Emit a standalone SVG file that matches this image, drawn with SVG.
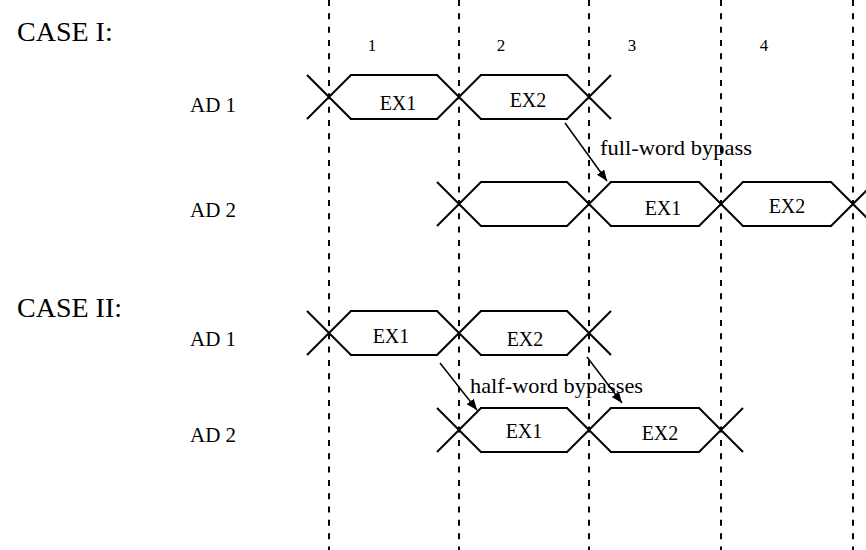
<svg xmlns="http://www.w3.org/2000/svg" width="866" height="550" viewBox="0 0 866 550">
<style>
.t{font-family:"Liberation Serif","Times New Roman",serif;fill:#000}
.case{font-size:28px}
.lbl{font-size:21px}
.ex{font-size:20px;text-anchor:middle}
.num{font-size:17px;text-anchor:middle}
.wave{fill:none;stroke:#000;stroke-width:2}
.grid{stroke:#000;stroke-width:2;stroke-dasharray:6 7.33}
.arr{stroke:#000;stroke-width:1.5;fill:none;marker-end:url(#ah)}
</style>
<defs>
<marker id="ah" markerUnits="userSpaceOnUse" markerWidth="12" markerHeight="10" refX="11" refY="4.5" orient="auto">
<path d="M0,0 L11,4.5 L0,9 Z" fill="#000"/>
</marker>
</defs>
<rect width="866" height="550" fill="#fff"/>
<g id="grid">
<line class="grid" x1="329" y1="0" x2="329" y2="550"/>
<line class="grid" x1="459" y1="0" x2="459" y2="550"/>
<line class="grid" x1="589" y1="0" x2="589" y2="550"/>
<line class="grid" x1="721" y1="0" x2="721" y2="550"/>
<line class="grid" x1="853" y1="0" x2="853" y2="550"/>
</g>
<g id="numbers">
<text class="t num" x="372" y="51">1</text>
<text class="t num" x="501" y="51">2</text>
<text class="t num" x="632" y="51">3</text>
<text class="t num" x="764" y="51">4</text>
</g>
<g id="case1">
<text class="t case" x="17" y="41">CASE I:</text>
<text class="t lbl" x="190" y="112">AD 1</text>
<text class="t lbl" x="190" y="217">AD 2</text>
</g>
<g id="c1-ad1">
<path class="wave" d="M307,75 L351,119 M307,119 L351,75 M437,75 L481,119 M437,119 L481,75 M567,75 L611,119 M567,119 L611,75 M350,75 H438 M350,119 H438 M480,75 H568 M480,119 H568"/>
<text class="t ex" x="398" y="110">EX1</text>
<text class="t ex" x="528" y="107">EX2</text>
</g>
<g id="c1-ad2">
<path class="wave" d="M437,182 L481,226 M437,226 L481,182 M567,182 L611,226 M567,226 L611,182 M699,182 L743,226 M699,226 L743,182 M831,182 L875,226 M831,226 L875,182 M480,182 H568 M480,226 H568 M610,182 H700 M610,226 H700 M742,182 H832 M742,226 H832"/>
<text class="t ex" x="663" y="215">EX1</text>
<text class="t ex" x="787" y="213">EX2</text>
</g>
<g id="case2">
<text class="t case" x="17" y="317">CASE II:</text>
<text class="t lbl" x="190" y="346">AD 1</text>
<text class="t lbl" x="190" y="442">AD 2</text>
</g>
<g id="c2-ad1">
<path class="wave" d="M307,311 L351,355 M307,355 L351,311 M437,311 L481,355 M437,355 L481,311 M567,311 L611,355 M567,355 L611,311 M350,311 H438 M350,355 H438 M480,311 H568 M480,355 H568"/>
<text class="t ex" x="391" y="343">EX1</text>
<text class="t ex" x="525" y="346">EX2</text>
</g>
<g id="c2-ad2">
<path class="wave" d="M437,408 L481,452 M437,452 L481,408 M567,408 L611,452 M567,452 L611,408 M699,408 L743,452 M699,452 L743,408 M480,408 H568 M480,452 H568 M610,408 H700 M610,452 H700"/>
<text class="t ex" x="524" y="438">EX1</text>
<text class="t ex" x="660" y="440">EX2</text>
</g>
<g id="connectors">
<line class="arr" x1="565" y1="123" x2="607" y2="181"/>
<line class="arr" x1="440" y1="363" x2="477" y2="410"/>
<line class="arr" x1="587" y1="357" x2="622" y2="403"/>
</g>
<g id="labels">
<text class="t lbl" x="600" y="155" textLength="152" lengthAdjust="spacingAndGlyphs">full-word bypass</text>
<text class="t lbl" x="470" y="393" textLength="173" lengthAdjust="spacingAndGlyphs">half-word bypasses</text>
</g>
</svg>
